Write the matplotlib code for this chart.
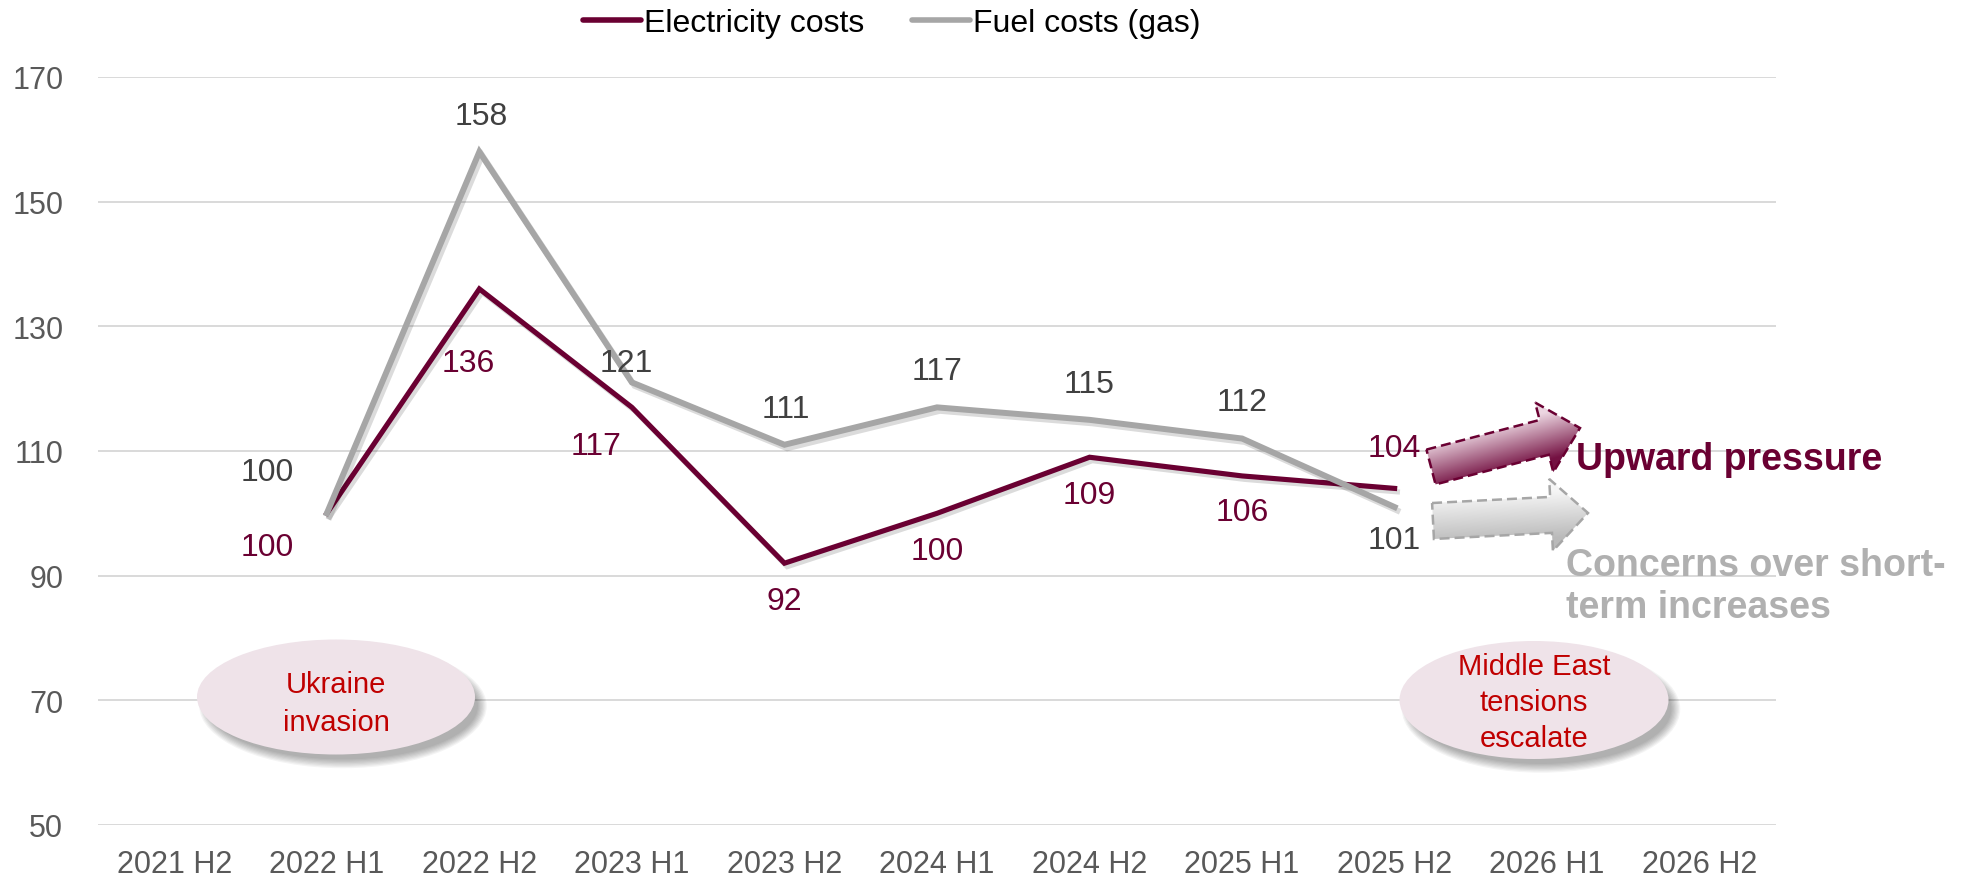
import numpy as np
import matplotlib
matplotlib.use("Agg")
import matplotlib.pyplot as plt
import matplotlib.patheffects as pe
from matplotlib.lines import Line2D
from matplotlib.patches import Polygon, Ellipse
from matplotlib.colors import LinearSegmentedColormap

plt.rcParams["font.family"] = ["Liberation Sans", "DejaVu Sans"]

# ── Data ──
categories = ["2021 H2", "2022 H1", "2022 H2", "2023 H1", "2023 H2", "2024 H1",
              "2024 H2", "2025 H1", "2025 H2", "2026 H1", "2026 H2"]
electricity = [np.nan, 100, 136, 117, 92, 100, 109, 106, 104, np.nan, np.nan]
fuel_gas = [np.nan, 100, 158, 121, 111, 117, 115, 112, 101, np.nan, np.nan]
y_ticks = [50, 70, 90, 110, 130, 150, 170]

# data label offsets in points (dx, dy)
elec_offsets = [None, (-43, -24), (-8, -53), (-26, -28), (0, -27), (0, -27),
                (0, -27), (0, -26), (0, 29), None, None]
gas_offsets = [None, (-43, 30), (1, 26), (-4, 14), (1, 26), (0, 26),
               (0, 26), (0, 26), (0, -24), None, None]

MAROON = "#6a0032"
GRAY = "#a6a6a6"
LABEL_GRAY = "#404040"
TICK_GRAY = "#595959"
EVENT_RED = "#c00000"

W, H = 1964, 878
fig = plt.figure(figsize=(W / 100, H / 100), dpi=100)
ax = fig.add_axes([98 / W, (H - 826) / H, (1776 - 98) / W, (826 - 78) / H])

x = np.arange(len(categories))
shadow = [pe.SimpleLineShadow(offset=(2, -2.5), shadow_color="k", alpha=0.14), pe.Normal()]
ax.plot(x, electricity, color=MAROON, lw=3.7, solid_joinstyle="miter",
        path_effects=shadow, zorder=3)
ax.plot(x, fuel_gas, color=GRAY, lw=4.3, solid_joinstyle="miter",
        path_effects=shadow, zorder=4)

for xi, v, off in zip(x, electricity, elec_offsets):
    if off is None:
        continue
    ax.annotate(f"{v:.0f}", (xi, v), xytext=off, textcoords="offset points",
                ha="center", va="center", fontsize=23, color=MAROON, zorder=6)
for xi, v, off in zip(x, fuel_gas, gas_offsets):
    if off is None:
        continue
    ax.annotate(f"{v:.0f}", (xi, v), xytext=off, textcoords="offset points",
                ha="center", va="center", fontsize=23, color=LABEL_GRAY, zorder=6)

ax.set_xlim(-0.5, len(categories) - 0.5)
ax.set_ylim(50, 170)
ax.set_yticks(y_ticks)
ax.set_xticks(x)
ax.set_xticklabels(categories)
ax.tick_params(axis="both", length=0, labelsize=22, colors=TICK_GRAY)
ax.tick_params(axis="y", pad=25)
ax.tick_params(axis="x", pad=17)
ax.grid(axis="y", color="#d9d9d9", lw=1.4)
ax.set_axisbelow(True)
for s in ax.spines.values():
    s.set_visible(False)

# ── Legend ──
handles = [Line2D([], [], color=MAROON, lw=4, solid_capstyle="round"),
           Line2D([], [], color=GRAY, lw=4, solid_capstyle="round")]
fig.legend(handles, ["Electricity costs", "Fuel costs (gas)"], loc="center",
           bbox_to_anchor=(892 / W, 1 - 24 / H), ncol=2, frameon=False,
           fontsize=23, handlelength=1.8, handletextpad=0.1, columnspacing=1.5)

# ── Overlay in pixel coordinates (y down) for shapes ──
ov = fig.add_axes([0, 0, 1, 1], zorder=5)
ov.axis("off")
ov.patch.set_alpha(0)


def event_bubble(cx, cy, w, h, text, spacing, dy):
    for k in range(8):
        ov.add_patch(Ellipse((cx + 7, cy + 9), w + k * 2.5 - 8, h + k * 2.5 - 8,
                             color="k", alpha=0.045, lw=0))
    ov.add_patch(Ellipse((cx, cy), w, h, facecolor="#efe3e9", edgecolor="none"))
    ov.text(cx, cy + dy, text, ha="center", va="center", fontsize=21, color=EVENT_RED,
            linespacing=spacing)


event_bubble(336, 698, 278, 115, "Ukraine\ninvasion", 1.48, 6)
event_bubble(1534, 701, 269, 118, "Middle East\ntensions\nescalate", 1.36, 2)


def gradient_arrow(tail, tip, body_hw, head_hw, head_len, light, dark, edge):
    tail = np.array(tail, float)
    tip = np.array(tip, float)
    d = tip - tail
    u = d / np.hypot(*d)
    n = np.array([u[1], -u[0]])  # points up on screen
    base = tip - u * head_len
    pts = np.array([tail + n * body_hw, base + n * body_hw, base + n * head_hw, tip,
                    base - n * head_hw, base - n * body_hw, tail - n * body_hw])
    patch = Polygon(pts, closed=True, facecolor="none", edgecolor="none")
    ov.add_patch(patch)
    x0, y0 = pts.min(axis=0) - 2
    x1, y1 = pts.max(axis=0) + 2
    gx, gy = np.meshgrid(np.linspace(x0, x1, 200), np.linspace(y0, y1, 200))
    t = ((gx - tail[0]) * n[0] + (gy - tail[1]) * n[1] + body_hw * 1.3) / (2.6 * body_hw)
    cmap = LinearSegmentedColormap.from_list("g", [dark, light])
    im = ov.imshow(np.clip(t, 0, 1), cmap=cmap, vmin=0, vmax=1, origin="lower",
                   extent=(x0, x1, y0, y1), aspect="auto", interpolation="bilinear")
    im.set_clip_path(patch)
    ov.add_patch(Polygon(pts, closed=True, facecolor="none", edgecolor=edge,
                         lw=1.8, linestyle=(0, (4, 2))))


gradient_arrow((1431, 468), (1580, 429), 18, 36, 37, "#ecd6e1", "#741142", MAROON)
gradient_arrow((1433, 522), (1588, 514), 18, 36, 37, "#f5f5f5", "#bababa", GRAY)
ov.set_xlim(0, W)
ov.set_ylim(H, 0)

ov.text(1576, 460, "Upward pressure", ha="left", va="center", fontsize=27,
        fontweight="bold", color=MAROON)
ov.text(1566, 587, "Concerns over short-\nterm increases", ha="left", va="center",
        fontsize=27, fontweight="bold", color="#b0b0b0", linespacing=1.2)

fig.savefig("out.png", dpi=100)
